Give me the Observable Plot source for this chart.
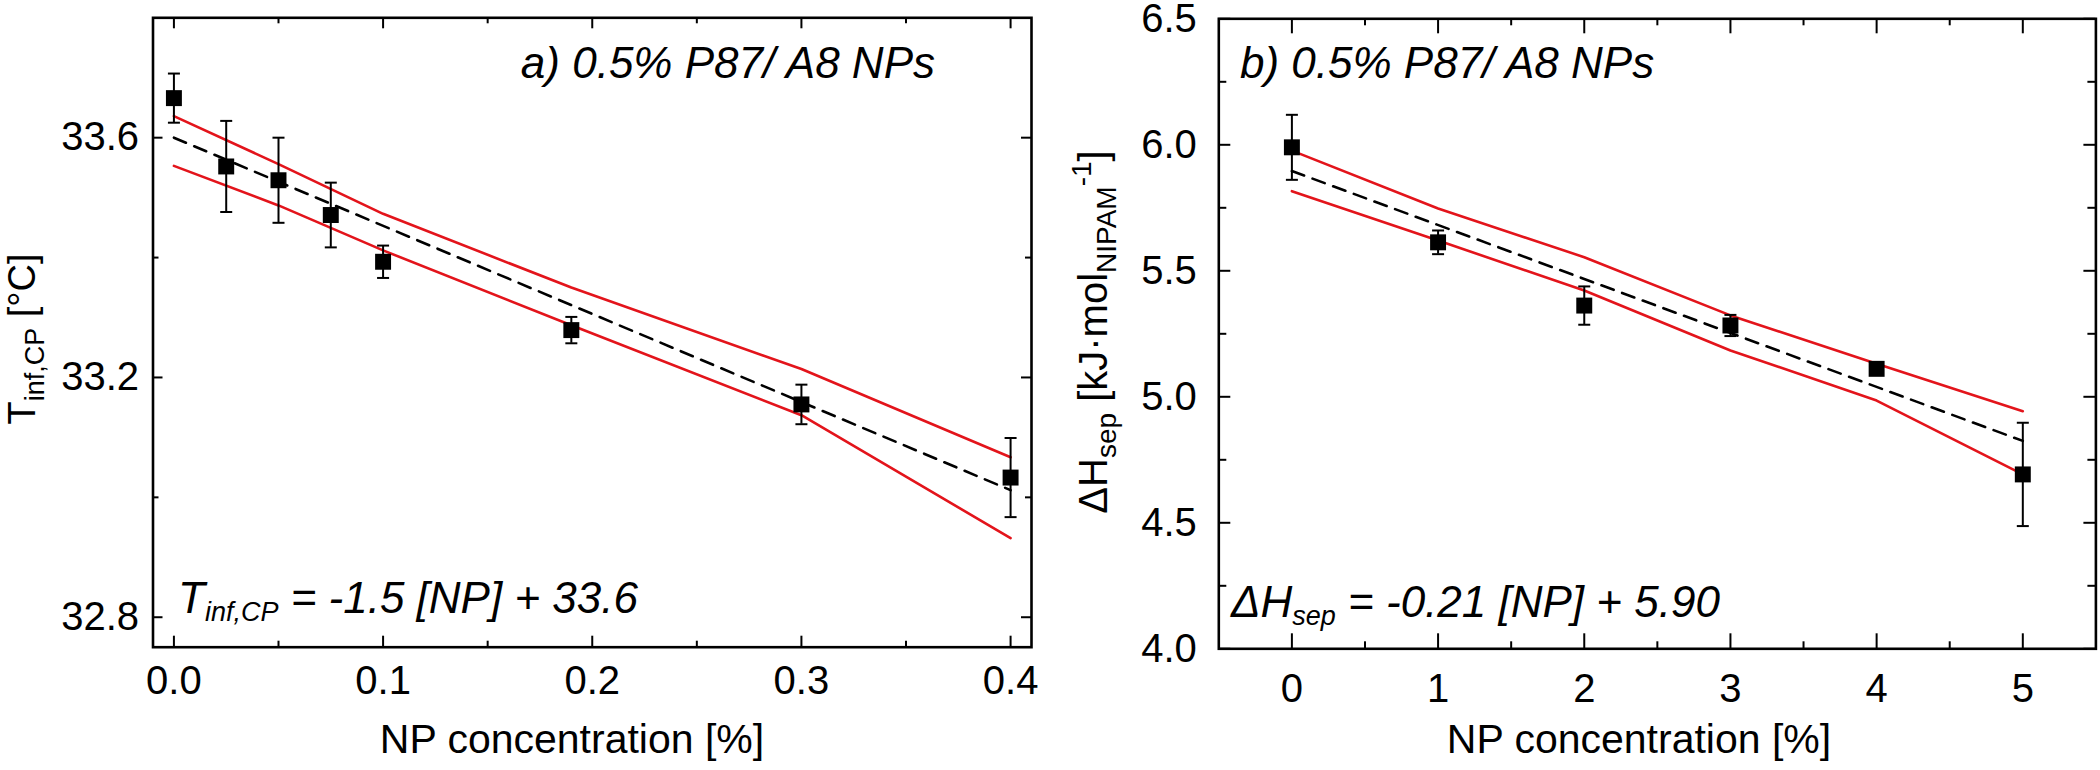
<!DOCTYPE html>
<html><head><meta charset="utf-8">
<script src="https://cdn.jsdelivr.net/npm/d3@7"></script>
<script src="https://cdn.jsdelivr.net/npm/@observablehq/plot@0.6"></script>
<style>
html,body{margin:0;padding:0;background:#fff;}
#root{position:relative;width:2100px;height:770px;overflow:hidden;background:#fff;}
#root svg{position:absolute;top:0;overflow:visible;}
</style></head><body><div id="root"></div>
<script>
const FONT = "'Liberation Sans', Arial, Helvetica, sans-serif";
const RED = "#e3141b";

// ---- Panel a data ----
const aConc = [0, 0.025, 0.05, 0.075, 0.1, 0.19, 0.3, 0.4];
const aTinf = [33.666, 33.552, 33.529, 33.471, 33.393, 33.279, 33.155, 33.033];
const aErr = [0.041, 0.076, 0.071, 0.054, 0.027, 0.022, 0.033, 0.066];
const aFitX = [0, 0.4];
const aFitY = [33.600, 33.012];
const aBandX = [0, 0.05, 0.1, 0.19, 0.3, 0.4];
const aBandUpper = [33.636, 33.556, 33.473, 33.350, 33.214, 33.067];
const aBandLower = [33.553, 33.487, 33.412, 33.287, 33.137, 32.932];
const aXTicks = [0, 0.1, 0.2, 0.3, 0.4];
const aXMinor = [0.05, 0.15, 0.25, 0.35];
const aYTicks = [32.8, 33.2, 33.6];
const aYMinor = [33.0, 33.4];

// ---- Panel b data ----
const bConc = [0, 1, 2, 3, 4, 5];
const bH = [5.990, 5.613, 5.362, 5.283, 5.111, 4.692];
const bErr = [0.129, 0.047, 0.076, 0.042, 0.02, 0.205];
const bFitX = [0, 5];
const bFitY = [5.896, 4.825];
const bBandX = [0, 1, 2, 3, 4, 5];
const bBandUpper = [5.977, 5.747, 5.554, 5.323, 5.131, 4.943];
const bBandLower = [5.816, 5.620, 5.422, 5.184, 4.985, 4.692];
const bXTicks = [0, 1, 2, 3, 4, 5];
const bXMinor = [0.5, 1.5, 2.5, 3.5, 4.5];
const bYTicks = [4.0, 4.5, 5.0, 5.5, 6.0, 6.5];
const bYMinor = [4.25, 4.75, 5.25, 5.75, 6.25];

function panel(c) {
  const H = 770;
  const innerW = c.width - c.ml - c.mr;
  const innerH = H - c.mt - c.mb;
  const pts = c.xs.map((x, i) => ({x, y: c.ys[i], e: c.err[i]}));
  const fit = c.fitX.map((x, i) => ({x, y: c.fitY[i]}));
  const up = c.bandX.map((x, i) => ({x, y: c.up[i]}));
  const lo = c.bandX.map((x, i) => ({x, y: c.lo[i]}));
  const capSym = {draw(ctx) { ctx.moveTo(-6, 0); ctx.lineTo(6, 0); }};
  const tk = {stroke: "black", strokeWidth: 2};
  return Plot.plot({
    width: c.width, height: H,
    marginLeft: c.ml, marginRight: c.mr, marginTop: c.mt, marginBottom: c.mb,
    x: {domain: c.xDomain},
    y: {domain: c.yDomain},
    style: {fontFamily: FONT, background: "transparent", color: "black"},
    marks: [
      Plot.line(up, {x: "x", y: "y", stroke: RED, strokeWidth: 2.6}),
      Plot.line(lo, {x: "x", y: "y", stroke: RED, strokeWidth: 2.6}),
      Plot.line(fit, {x: "x", y: "y", stroke: "black", strokeWidth: 2.6, strokeDasharray: "13,9"}),
      Plot.ruleX(pts, {x: "x", y1: d => d.y - d.e, y2: d => d.y + d.e, stroke: "black", strokeWidth: 2}),
      Plot.dot(pts, {x: "x", y: d => d.y + d.e, symbol: capSym, r: 5, fill: "none", stroke: "black", strokeWidth: 2}),
      Plot.dot(pts, {x: "x", y: d => d.y - d.e, symbol: capSym, r: 5, fill: "none", stroke: "black", strokeWidth: 2}),
      Plot.dot(pts, {x: "x", y: "y", symbol: "square", r: 9, fill: "black", stroke: "none"}),
      Plot.tickX(c.xMajor, {x: d => d, insetTop: innerH - c.maj, ...tk}),
      Plot.tickX(c.xMajor, {x: d => d, insetBottom: innerH - c.maj, ...tk}),
      Plot.tickX(c.xMinor, {x: d => d, insetTop: innerH - c.min, ...tk}),
      Plot.tickX(c.xMinor, {x: d => d, insetBottom: innerH - c.min, ...tk}),
      Plot.tickY(c.yMajor, {y: d => d, insetRight: innerW - c.majY, ...tk}),
      Plot.tickY(c.yMajor, {y: d => d, insetLeft: innerW - c.majY, ...tk}),
      Plot.tickY(c.yMinor, {y: d => d, insetRight: innerW - c.minY, ...tk}),
      Plot.tickY(c.yMinor, {y: d => d, insetLeft: innerW - c.minY, ...tk}),
      Plot.axisX(c.xMajor, {tickSize: 0, tickPadding: c.xPad, fontSize: 40, tickFormat: c.xFmt, label: null}),
      Plot.axisY(c.yMajor, {tickSize: 0, tickPadding: c.yPad, fontSize: 40, tickFormat: c.yFmt, label: null}),
      Plot.frame({stroke: "black", strokeWidth: 2.6})
    ]
  });
}

function rich(svg, parts, {x, y, rotate = 0, anchor = "start", italic = false}) {
  const t = d3.select(svg).append("text")
    .attr("transform", `translate(${x},${y}) rotate(${rotate})`)
    .attr("text-anchor", anchor)
    .attr("font-family", FONT)
    .attr("font-style", italic ? "italic" : "normal")
    .attr("fill", "black");
  parts.forEach(p => t.append("tspan").attr("font-size", p.s).attr("dy", p.dy || 0).text(p.t));
}

const root = document.getElementById("root");

const svgA = panel({
  width: 1060, ml: 152.5, mr: 29, mt: 17.3, mb: 123.3,
  xs: aConc, ys: aTinf, err: aErr, fitX: aFitX, fitY: aFitY,
  bandX: aBandX, up: aBandUpper, lo: aBandLower,
  xDomain: [-0.01, 0.41], yDomain: [32.75, 33.8],
  xMajor: aXTicks, xMinor: aXMinor, yMajor: aYTicks, yMinor: aYMinor,
  maj: 11, min: 6, majY: 10, minY: 6,
  xPad: 18, yPad: 14, xFmt: d3.format(".1f"), yFmt: d3.format(".1f")
});
svgA.style.left = "0px";
root.appendChild(svgA);

rich(svgA, [{t: "a) 0.5% P87/ A8 NPs", s: 44}], {x: 935, y: 78, anchor: "end", italic: true});
rich(svgA, [{t: "T", s: 44}, {t: "inf,CP", s: 27, dy: 8}, {t: " = -1.5 [NP] + 33.6", s: 44, dy: -8}], {x: 178, y: 613, italic: true});
rich(svgA, [{t: "NP concentration [%]", s: 41}], {x: 572, y: 753, anchor: "middle"});
rich(svgA, [{t: "T", s: 38}, {t: "inf,CP", s: 27, dy: 9}, {t: " [°C]", s: 38, dy: -9}], {x: 35, y: 339, rotate: -90, anchor: "middle"});

const svgB = panel({
  width: 1040, ml: 158.3, mr: 4.6, mt: 18.3, mb: 121.7,
  xs: bConc, ys: bH, err: bErr, fitX: bFitX, fitY: bFitY,
  bandX: bBandX, up: bBandUpper, lo: bBandLower,
  xDomain: [-0.5, 5.5], yDomain: [4.0, 6.5],
  xMajor: bXTicks, xMinor: bXMinor, yMajor: bYTicks, yMinor: bYMinor,
  maj: 15, min: 7, majY: 12, minY: 8,
  xPad: 25, yPad: 22, xFmt: d3.format("d"), yFmt: d3.format(".1f")
});
svgB.style.left = "1060px";
root.appendChild(svgB);

rich(svgB, [{t: "b) 0.5% P87/ A8 NPs", s: 44}], {x: 180, y: 78, italic: true});
rich(svgB, [{t: "ΔH", s: 44}, {t: "sep", s: 27, dy: 8}, {t: " = -0.21 [NP] + 5.90", s: 44, dy: -8}], {x: 171, y: 617, italic: true});
rich(svgB, [{t: "NP concentration [%]", s: 41}], {x: 579, y: 753, anchor: "middle"});
rich(svgB, [{t: "ΔH", s: 40}, {t: "sep", s: 28, dy: 9}, {t: " [kJ·mol", s: 40, dy: -9}, {t: "NIPAM", s: 28, dy: 9}, {t: "-1", s: 28, dy: -25}, {t: "]", s: 40, dy: 16}], {x: 47, y: 332, rotate: -90, anchor: "middle"});
</script></body></html>
